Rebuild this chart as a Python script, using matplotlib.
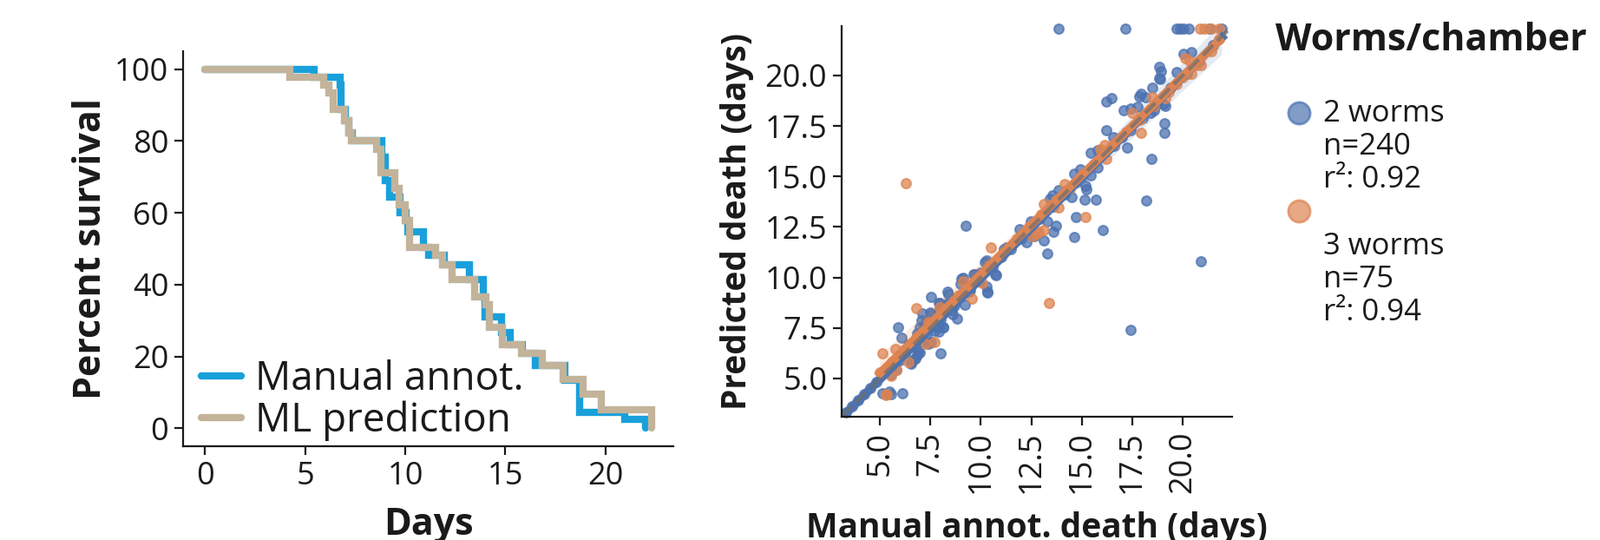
import numpy as np
import matplotlib
matplotlib.use("Agg")
import matplotlib.pyplot as plt
import seaborn as sns

plt.rcParams['font.family'] = ['Open Sans', 'DejaVu Sans']
plt.rcParams['text.color'] = '#1a1a1a'
plt.rcParams['axes.labelcolor'] = '#1a1a1a'
plt.rcParams['xtick.color'] = '#1a1a1a'
plt.rcParams['ytick.color'] = '#1a1a1a'

# survival curves (day of drop, percent alive after the drop)
manual_days = [0, 5.45, 6.75, 6.8, 7.0, 7.2, 7.35, 8.85, 9.0, 9.2, 9.75, 10.05, 10.15, 10.9,
               11.15, 11.95, 13.2, 13.9, 14.0, 14.8, 15.25, 15.85, 16.5, 18.0, 18.7, 20.97, 22.0]
manual_pct = [100, 97.8, 95.6, 88.8, 85.6, 82.2, 80.0, 75.6, 68.9, 64.4, 60.0, 57.8, 54.7, 50.4,
              48.3, 45.5, 41.5, 36.7, 31.1, 26.7, 23.2, 20.8, 17.6, 13.3, 4.4, 2.4, 0.0]

ml_days = [0, 4.24, 5.93, 6.2, 6.4, 6.95, 7.2, 7.3, 8.55, 8.8, 9.47, 9.68, 10.0, 10.2, 11.5,
           11.85, 12.35, 13.45, 14.05, 14.2, 14.85, 15.8, 16.85, 17.9, 18.9, 19.78, 22.31]
ml_pct = [100, 97.8, 95.6, 93.3, 88.8, 85.6, 82.2, 80.0, 77.6, 71.1, 66.7, 62.2, 57.8, 50.4, 48.3,
          45.5, 41.5, 36.7, 34.4, 28.0, 23.2, 20.8, 17.6, 13.6, 9.6, 5.2, 0.0]

# (manual annotated death, predicted death) in days
two_worms = [
    (13.84, 22.31), (17.17, 22.31), (19.68, 22.31), (19.85, 22.31), (20.05, 22.31), (20.30, 22.31),
    (21.35, 22.31), (21.95, 22.31), (20.06, 21.06), (20.42, 21.16), (19.68, 20.16), (18.85, 20.42),
    (18.92, 20.23), (18.82, 19.87), (18.88, 19.83), (18.49, 19.41), (17.85, 18.98), (17.95, 19.08),
    (18.16, 18.94), (19.13, 18.51), (19.06, 18.58), (16.20, 18.69), (16.49, 18.86), (17.06, 18.26),
    (17.42, 18.36), (17.78, 18.43), (18.42, 18.15), (18.56, 18.29), (19.11, 17.64), (19.09, 17.14),
    (16.20, 17.28), (17.25, 16.42), (16.99, 16.93), (16.56, 16.93), (18.46, 15.85), (15.42, 16.18),
    (15.77, 16.28), (15.77, 15.42), (14.63, 15.13), (14.91, 15.34), (15.42, 15.06), (15.20, 14.55),
    (15.24, 14.38), (14.70, 14.70), (13.84, 14.34), (13.55, 14.05), (13.41, 13.91), (14.49, 13.98),
    (14.13, 14.12), (15.13, 13.84), (15.70, 13.84), (14.73, 13.00), (16.03, 12.33), (14.63, 12.01),
    (13.70, 12.54), (13.60, 12.28), (13.27, 12.76), (12.48, 12.76), (12.34, 12.40), (11.91, 12.40),
    (13.30, 11.18), (13.13, 11.82), (12.27, 11.75), (12.63, 12.04), (11.27, 11.47), (11.12, 11.39),
    (9.26, 12.54), (10.69, 10.17), (10.77, 10.10), (10.34, 9.31), (10.26, 9.53), (10.19, 10.75),
    (9.98, 10.24), (10.34, 9.24), (10.27, 10.82), (9.69, 10.17), (9.12, 9.96), (8.98, 9.67),
    (9.48, 9.38), (9.05, 9.95), (9.62, 10.17), (9.19, 8.66), (8.33, 9.31), (8.40, 9.17),
    (8.83, 7.95), (8.26, 8.66), (7.98, 8.38), (8.12, 7.51), (7.55, 8.16), (7.26, 7.80),
    (7.12, 8.23), (6.97, 7.51), (6.83, 7.23), (7.55, 9.02), (7.98, 8.74), (7.69, 7.37),
    (7.90, 7.51), (8.55, 8.38), (8.40, 8.74), (7.90, 8.74), (7.47, 8.24), (7.04, 7.88),
    (7.19, 7.52), (8.12, 7.52), (7.90, 7.30), (8.62, 8.16), (6.90, 7.08), (6.76, 6.65),
    (6.97, 6.29), (6.55, 5.72), (6.76, 6.00), (6.55, 5.79), (6.69, 5.93), (6.90, 6.29),
    (6.83, 6.15), (6.26, 6.22), (5.90, 7.54), (6.07, 7.01), (6.40, 6.65), (8.02, 6.22),
    (7.12, 6.80), (7.40, 6.72), (7.55, 6.80), (6.12, 4.28), (5.11, 4.24), (5.33, 4.21),
    (5.57, 4.21), (5.47, 4.35), (5.54, 5.22), (5.83, 5.43), (3.30, 3.30), (3.60, 3.60),
    (3.90, 3.90), (4.20, 4.20), (4.50, 4.50), (4.80, 4.80), (11.00, 11.00), (11.50, 11.40),
    (12.00, 11.90), (12.90, 12.90), (13.60, 13.50), (14.20, 14.30), (15.00, 15.00), (15.90, 16.00),
    (16.60, 16.50), (17.40, 17.30), (18.00, 17.90), (18.70, 18.60), (19.40, 19.40), (20.20, 20.10),
    (20.80, 20.70), (21.50, 21.50), (10.60, 10.50), (9.90, 9.80), (9.40, 9.30), (8.70, 8.60),
    (8.00, 7.90), (7.30, 7.20), (6.60, 6.60), (6.00, 5.90), (5.50, 5.50), (17.42, 7.41),
    (18.18, 13.81), (20.92, 10.79),
]

three_worms = [
    (20.85, 22.31), (21.07, 22.31), (21.42, 22.31), (21.82, 22.31), (20.14, 20.88), (20.35, 20.73),
    (20.42, 20.09), (20.92, 20.52), (19.71, 19.58), (18.49, 18.94), (19.13, 18.87), (17.49, 18.15),
    (17.95, 17.14), (16.13, 16.57), (15.92, 16.35), (16.20, 15.85), (14.13, 14.63), (13.13, 13.62),
    (13.84, 13.48), (15.17, 12.97), (12.55, 12.04), (12.77, 12.18), (13.13, 12.33), (12.84, 12.26),
    (10.51, 11.47), (13.38, 8.74), (9.12, 9.81), (9.55, 8.95), (10.05, 9.74), (7.98, 8.52),
    (7.40, 7.80), (7.26, 6.72), (7.69, 6.80), (6.80, 8.48), (5.76, 6.47), (5.11, 6.25),
    (6.40, 5.79), (5.83, 5.43), (5.54, 5.14), (5.29, 4.18), (5.35, 4.20), (6.29, 14.68),
    (5.00, 5.30), (5.60, 5.80), (6.20, 6.40), (6.80, 7.00), (7.50, 7.70), (8.20, 8.40),
    (8.90, 9.10), (9.70, 9.80), (10.40, 10.60), (11.10, 11.20), (11.80, 11.90), (12.40, 12.50),
    (13.00, 13.10), (13.70, 13.80), (14.40, 14.40), (15.00, 15.10), (15.60, 15.60), (16.60, 16.60),
    (17.20, 17.20), (17.90, 17.80), (18.60, 18.50), (19.30, 19.20), (20.00, 19.90), (20.70, 20.50),
    (21.40, 21.20), (21.80, 21.80),
]

group_labels = ["2 worms\nn=240\nr\u00b2: 0.92", "3 worms\nn=75\nr\u00b2: 0.94"]
ticks2 = [5.0, 7.5, 10.0, 12.5, 15.0, 17.5, 20.0]

c_manual = '#19a0db'
c_ml = '#c2b39a'
c_two = '#4c72b0'
c_three = '#dd8452'

W, H = 1844, 622
fig = plt.figure(figsize=(W / 100, H / 100), dpi=100)

# ---- survival panel
ax1 = fig.add_axes([211 / W, 1 - 514 / H, 565 / W, 455 / H])
ax1.step(manual_days, manual_pct, where='post', color=c_manual, lw=6,
         solid_joinstyle='miter', solid_capstyle='round', label='Manual annot.')
ax1.step(ml_days, ml_pct, where='post', color=c_ml, lw=6,
         solid_joinstyle='miter', solid_capstyle='round', label='ML prediction')
ax1.set_xlim(-1.1, 23.4)
ax1.set_ylim(-5, 105)
ax1.set_xticks([0, 5, 10, 15, 20])
ax1.set_yticks([0, 20, 40, 60, 80, 100])
ax1.set_xlabel('Days', fontsize=31, fontweight='bold')
ax1.set_ylabel('Percent survival', fontsize=31, fontweight='bold')
ax1.xaxis.set_label_coords(0.5, -0.152)
ax1.yaxis.set_label_coords(-0.150, 0.5)
leg = ax1.legend(loc='lower left', bbox_to_anchor=(-0.012, -0.048), frameon=False, fontsize=33,
                 handlelength=1.0, handletextpad=0.35, labelspacing=0.05, borderaxespad=0.2)

# ---- prediction vs manual panel
ax2 = fig.add_axes([970 / W, 1 - 480 / H, 450 / W, 450 / H])
for pts, col in [(two_worms, c_two), (three_worms, c_three)]:
    arr = np.array(pts)
    sns.regplot(x=arr[:, 0], y=arr[:, 1], ax=ax2, color=col, seed=0,
                scatter_kws={'s': 62, 'alpha': 0.75, 'linewidths': 1.5, 'clip_on': False},
                line_kws={'lw': 7})
lims = (3.1, 22.45)
ax2.plot(lims, lims, ls='--', color='#6e6e6e', lw=3.2, alpha=0.7)
ax2.set_xlim(lims)
ax2.set_ylim(lims)
ax2.set_xticks(ticks2)
ax2.set_yticks(ticks2)
ax2.set_xticklabels([f'{t:.1f}' for t in ticks2], rotation=90)
ax2.set_yticklabels([f'{t:.1f}' for t in ticks2])
ax2.set_xlabel('Manual annot. death (days)', fontsize=28, fontweight='bold')
ax2.set_ylabel('Predicted death (days)', fontsize=28, fontweight='bold')
ax2.xaxis.set_label_coords(0.5, -0.243)
ax2.yaxis.set_label_coords(-0.224, 0.5)

for ax in (ax1, ax2):
    for s in ('top', 'right'):
        ax.spines[s].set_visible(False)
    for s in ('left', 'bottom'):
        ax.spines[s].set_linewidth(1.6)
        ax.spines[s].set_color('#1a1a1a')
    ax.tick_params(length=7, width=1.6, labelsize=26, pad=5)
    ax.set_facecolor('white')

# ---- key for the scatter groups
fig.text(1470 / W, 1 - 47 / H, 'Worms/chamber', fontsize=31, fontweight='bold',
         ha='left', va='center')
kax = fig.add_axes([0, 0, 1, 1], zorder=-1)
kax.set_xlim(0, W)
kax.set_ylim(H, 0)
kax.axis('off')
for i, (lab, col) in enumerate(zip(group_labels, [c_two, c_three])):
    my = 130 + 113 * i
    ty = 127 + 153 * i
    kax.scatter([1497], [my], s=330, color=col, alpha=0.7, linewidths=2)
    kax.text(1525, ty - 13, lab, fontsize=25, ha='left', va='top', linespacing=1.15)

fig.savefig('out.png', dpi=100, facecolor='white')
